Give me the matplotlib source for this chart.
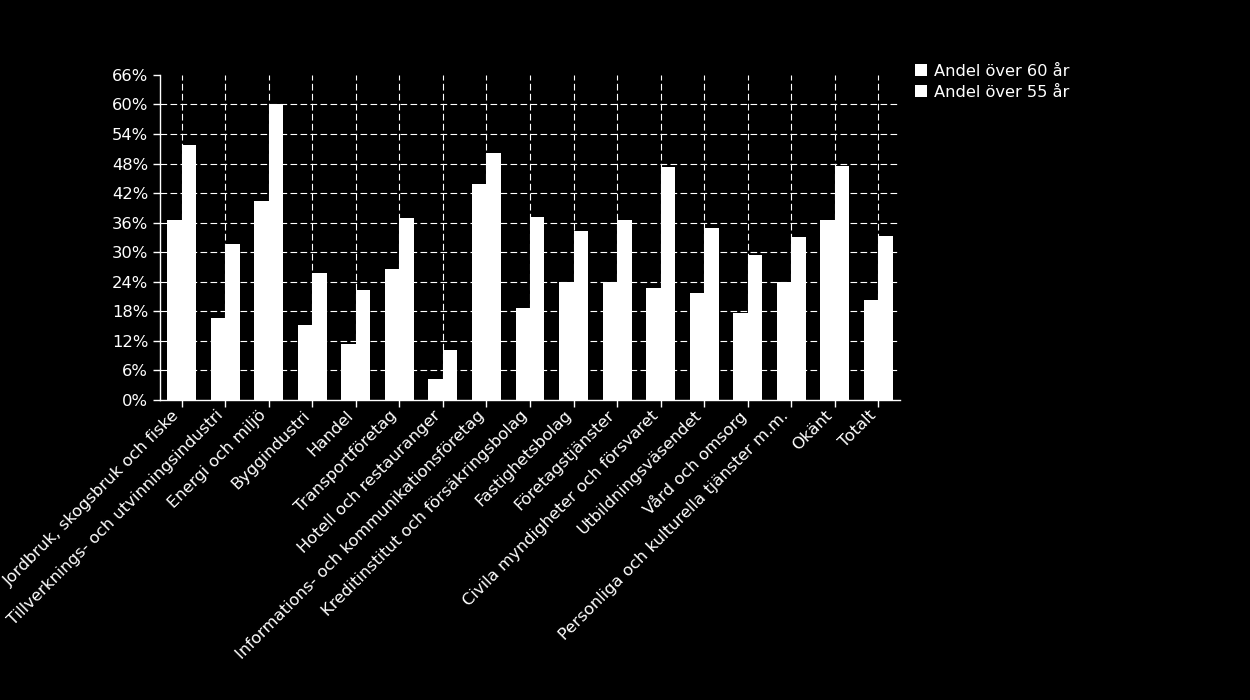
import matplotlib
matplotlib.use("Agg")
import matplotlib.pyplot as plt
import matplotlib.transforms as mtransforms
import numpy as np
from matplotlib.ticker import FuncFormatter

categories = [
    "Jordbruk, skogsbruk och fiske",
    "Tillverknings- och utvinningsindustri",
    "Energi och miljö",
    "Byggindustri",
    "Handel",
    "Transportföretag",
    "Hotell och restauranger",
    "Informations- och kommunikationsföretag",
    "Kreditinstitut och försäkringsbolag",
    "Fastighetsbolag",
    "Företagstjänster",
    "Civila myndigheter och försvaret",
    "Utbildningsväsendet",
    "Vård och omsorg",
    "Personliga och kulturella tjänster m.m.",
    "Okänt",
    "Totalt",
]
over60 = [36.6, 16.6, 40.3, 15.2, 11.3, 26.5, 4.2, 43.9, 18.7, 23.9, 23.9, 22.8, 21.8, 17.6, 23.9, 36.6, 20.3]
over55 = [51.8, 31.6, 60.1, 25.7, 22.4, 37.0, 10.1, 50.1, 37.2, 34.4, 36.6, 47.2, 35.0, 29.5, 33.0, 47.6, 33.2]
series_names = ["Andel över 60 år", "Andel över 55 år"]
yticks = list(range(0, 67, 6))

plt.rcParams['font.family'] = ['DejaVu Sans']

fig = plt.figure(figsize=(12.5, 7), dpi=100, facecolor="black")
ax = fig.add_axes([0.128, 0.4286, 0.592, 0.4644], facecolor="black")

x = np.arange(len(categories))
w = 0.333
ax.bar(x - w / 2, over60, width=w, color="white", zorder=3, label=series_names[0])
ax.bar(x + w / 2, over55, width=w, color="white", zorder=3, label=series_names[1])

ax.set_xlim(-0.5, len(categories) - 0.5)
ax.set_ylim(0, 66)
ax.set_yticks(yticks)
ax.yaxis.set_major_formatter(FuncFormatter(lambda v, p: f"{int(v)}%"))
ax.set_xticks(x)
ax.set_xticklabels(categories, rotation=45, ha="right", va="top", rotation_mode="anchor")

ax.grid(True, color="white", linestyle=(0, (6, 3)), linewidth=0.8, zorder=1)
ax.set_axisbelow(True)
for gl in (ax.yaxis.get_gridlines()[0], ax.yaxis.get_gridlines()[-1]):
    gl.set_visible(False)

for s in ["top", "right"]:
    ax.spines[s].set_visible(False)
for s in ["left", "bottom"]:
    ax.spines[s].set_color("white")
    ax.spines[s].set_linewidth(1)
    ax.spines[s].set_zorder(4)

ax.tick_params(axis="both", colors="white", labelsize=11.8, length=5, width=1, direction="out")
ax.tick_params(axis="x", pad=2, labelsize=11.8)

offset = mtransforms.ScaledTranslation(-10 / 100, 2 / 100, fig.dpi_scale_trans)
for lbl in ax.get_xticklabels():
    lbl.set_transform(lbl.get_transform() + offset)

leg = fig.legend(loc="upper left", bbox_to_anchor=(0.727, 0.918), frameon=False,
                 fontsize=11.7, handlelength=0.75, handleheight=0.75, handletextpad=0.4,
                 labelspacing=0.35, borderaxespad=0)
for t in leg.get_texts():
    t.set_color("white")

fig.savefig("out.png", dpi=100, facecolor="black")
